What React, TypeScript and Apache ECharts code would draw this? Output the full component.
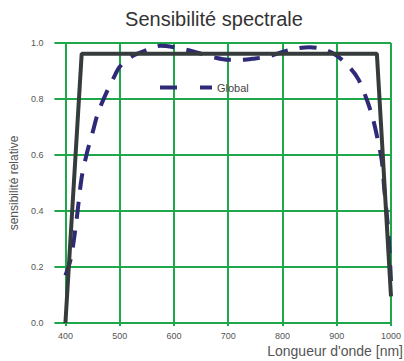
import React, { useEffect, useRef } from "react";
import * as echarts from "echarts";

const titleText = "Sensibilité spectrale";
const yAxisName = "sensibilité relative";
const xAxisName = "Longueur d'onde [nm]";

const referenceWavelengths = [400, 430, 974, 1000];
const referenceValues = [0.0, 0.962, 0.962, 0.095];

const globalWavelengths = [
  400, 410, 420, 430, 440, 450, 460, 475, 490, 500, 525, 550, 575, 600, 625, 650,
  675, 700, 725, 750, 775, 800, 825, 850, 875, 900, 925, 940, 955, 966, 975, 983,
  988, 995, 1000,
];
const globalValues = [
  0.17, 0.23, 0.36, 0.52, 0.61, 0.68, 0.75, 0.82, 0.88, 0.915, 0.955, 0.975, 0.99,
  0.985, 0.975, 0.962, 0.948, 0.94, 0.94, 0.945, 0.952, 0.968, 0.98, 0.985, 0.978,
  0.955, 0.91, 0.87, 0.8, 0.735, 0.66, 0.58, 0.47, 0.33, 0.15,
];

const GREEN = "#1fa84a";

export default function App() {
  const ref = useRef<HTMLDivElement>(null);
  useEffect(() => {
    if (!ref.current) return;
    const chart = echarts.init(ref.current, null, { renderer: "svg" });
    chart.setOption({
      animation: false,
      backgroundColor: "#ffffff",
      title: {
        text: titleText,
        left: 209,
        textAlign: "center",
        top: 4,
        textStyle: { fontFamily: "Liberation Sans", fontSize: 20, fontWeight: "normal", color: "#333" },
      },
      legend: {
        data: ["Global"],
        left: 153,
        top: 77,
        itemWidth: 52,
        itemHeight: 10,
        itemGap: 10,
        itemStyle: { opacity: 0 },
        lineStyle: { type: [17, 23], width: 4 },
        textStyle: { fontFamily: "Liberation Sans", fontSize: 11, color: "#444" },
      },
      grid: { left: 63, right: 7, top: 43, bottom: 38 },
      xAxis: {
        type: "value",
        min: 400,
        max: 1000,
        interval: 100,
        axisLine: { lineStyle: { color: GREEN, width: 2 } },
        axisTick: { show: true, length: 3, lineStyle: { color: GREEN, width: 2 } },
        axisLabel: {
          margin: 8,
          fontFamily: "Liberation Sans",
          fontSize: 9,
          color: "#555",
          formatter: (v: number) => String(v),
        },
        splitLine: { show: true, lineStyle: { color: GREEN, width: 2 } },
      },
      yAxis: {
        type: "value",
        min: 0,
        max: 1,
        interval: 0.2,
        name: yAxisName,
        nameLocation: "middle",
        nameGap: 42,
        nameTextStyle: { fontFamily: "Liberation Sans", fontSize: 12, color: "#555" },
        axisLine: { show: true, lineStyle: { color: GREEN, width: 2 } },
        axisTick: { show: true, length: 11, lineStyle: { color: GREEN, width: 2 } },
        axisLabel: {
          margin: 22,
          fontFamily: "Liberation Sans",
          fontSize: 9,
          color: "#555",
          formatter: (v: number) => v.toFixed(1),
        },
        splitLine: { show: true, lineStyle: { color: GREEN, width: 2 } },
      },
      graphic: [
        {
          type: "text",
          right: 1,
          top: 344,
          style: {
            text: xAxisName,
            fontFamily: "Liberation Sans",
            fontSize: 14,
            fill: "#555",
          },
        },
      ],
      series: [
        {
          name: "Reference",
          type: "line",
          data: referenceWavelengths.map((x, i) => [x, referenceValues[i]]),
          symbol: "none",
          lineStyle: { color: "#363b3b", width: 4 },
          itemStyle: { color: "#363b3b" },
          z: 3,
        },
        {
          name: "Global",
          type: "line",
          smooth: 0.3,
          data: globalWavelengths.map((x, i) => [x, globalValues[i]]),
          symbol: "none",
          lineStyle: { color: "#2e2a78", width: 4, type: [17, 12] },
          itemStyle: { color: "#2e2a78" },
          z: 2,
        },
      ],
    });
    return () => chart.dispose();
  }, []);
  return (
    <div
      ref={ref}
      style={{ position: "absolute", left: 0, top: 0, width: 404, height: 361 }}
    />
  );
}
